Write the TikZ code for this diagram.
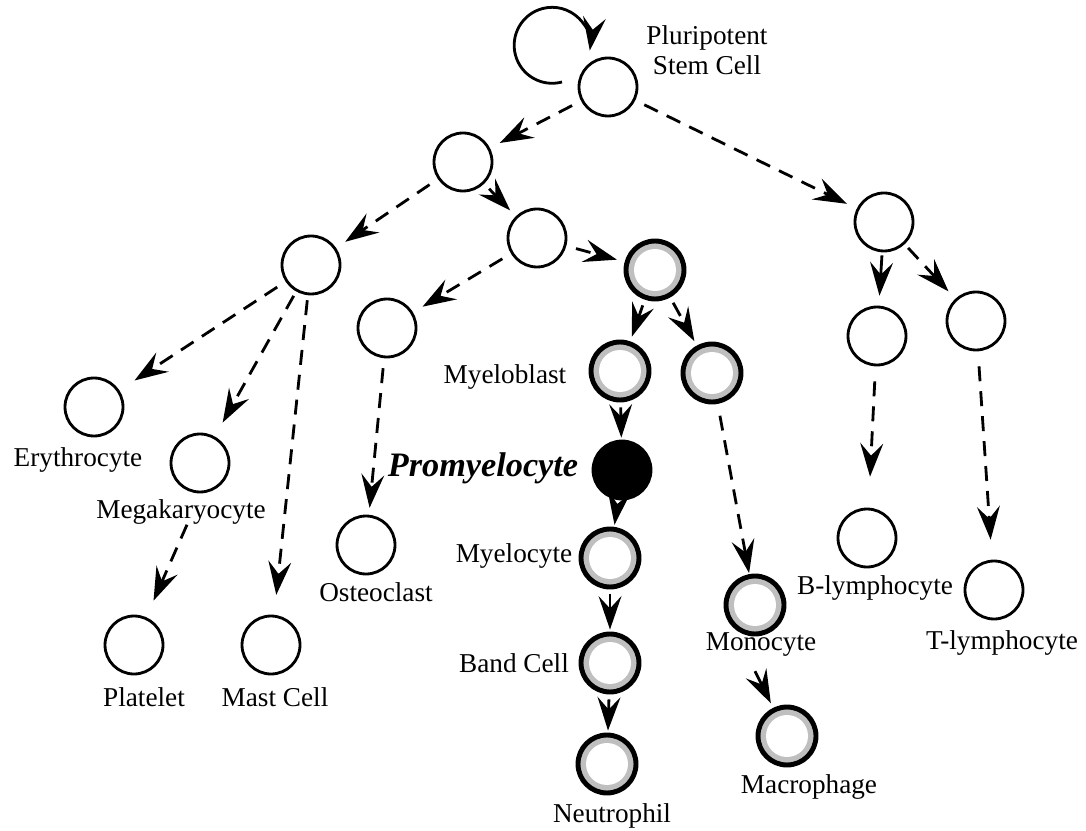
\documentclass[tikz,border=0pt]{standalone}
\usepackage{fontspec}
\setmainfont{Liberation Serif}
\usetikzlibrary{arrows.meta}
\begin{document}
\begin{tikzpicture}[x=0.02cm,y=-0.02cm,
  >={Stealth[length=19pt,width=13pt,inset=7pt]},
  cell/.style={circle, draw, line width=1.6pt, minimum size=1.16cm, inner sep=0pt},
  gcell/.style={cell, line width=2.8pt, fill=gray!50,
    path picture={\fill[white] (path picture bounding box.center) circle[radius=0.42cm];}},
  bcell/.style={cell, fill=black},
  lab/.style={font=\fontsize{15.5}{17}\selectfont, inner sep=0pt},
  con/.style={line width=1.6pt, ->, shorten <=0.2cm, shorten >=0.22cm},
  dsh/.style={con, dash pattern=on 0.3cm off 0.2cm},
  chain/.style={con, shorten <=0.1cm, shorten >=0.04cm},
]
\useasboundingbox (0,0) rectangle (1086,831);

% cells
\node[cell]  (stem)  at (608,87) {};
\node[cell]  (A)     at (463,162) {};
\node[cell]  (B)     at (537,238) {};
\node[cell]  (C)     at (311,265) {};
\node[gcell] (D)     at (655,270) {};
\node[cell]  (E)     at (884,222) {};
\node[cell]  (F)     at (387,328) {};
\node[gcell] (myb)   at (620,371) {};
\node[gcell] (monp)  at (712,373) {};
\node[cell]  (ery)   at (94,407) {};
\node[cell]  (mega)  at (200,463) {};
\node[bcell] (pro)   at (622,470) {};
\node[cell]  (ost)   at (366,545) {};
\node[gcell] (myc)   at (610,558) {};
\node[cell]  (bp)    at (877,336) {};
\node[cell]  (tp)    at (976,321) {};
\node[cell]  (bl)    at (867,538) {};
\node[cell]  (tl)    at (994,590) {};
\node[gcell] (mono)  at (755,605) {};
\node[gcell] (band)  at (610,663) {};
\node[cell]  (plt)   at (134,645) {};
\node[cell]  (mast)  at (271,645) {};
\node[gcell] (mac)   at (787,736) {};
\node[gcell] (neu)   at (607,764) {};

% labels
\node[lab, align=center] (lstem) at (707,50) {Pluripotent\\Stem Cell};
\node[lab] (lmyb)  at (505,377) {Myeloblast};
\node[lab] (lery)  at (78,460) {Erythrocyte};
\node[lab] (lmega) at (181,512) {Megakaryocyte};
\node[lab, font=\fontsize{19.5}{22}\selectfont\bfseries\itshape] (lpro) at (483,468) {Promyelocyte};
\node[lab] (lost)  at (376,592) {Osteoclast};
\node[lab] (lmyc)  at (514,556) {Myelocyte};
\node[lab] (lbl)   at (875,588) {B-lymphocyte};
\node[lab] (ltl)   at (1002,643) {T-lymphocyte};
\node[lab] (lmono) at (761,645) {Monocyte};
\node[lab] (lband) at (514,663) {Band Cell};
\node[lab] (lplt)  at (144,697) {Platelet};
\node[lab] (lmast) at (275,697) {Mast Cell};
\node[lab] (lmac)  at (809,787) {Macrophage};
\node[lab] (lneu)  at (612,816) {Neutrophil};

% self renewal loop
\coordinate (loopstart) at (562,82);
\draw[line width=1.6pt, ->] (loopstart) arc[start angle=-75, end angle=-368, radius=0.76cm];

% connectors
\draw[dsh] (stem) -- (A);
\draw[dsh] (stem) -- (E);
\draw[dsh] (A) -- (C);
\draw[dsh, shorten <=0.14cm, shorten >=0.16cm] (A) -- (B);
\draw[dsh] (B) -- (F);
\draw[dsh, shorten >=0.16cm] (B) -- (D);
\draw[con, shorten <=0.12cm, shorten >=0.1cm] (D) -- (myb);
\draw[dsh, shorten <=0.12cm, shorten >=0.1cm] (D) -- (monp);
\draw[dsh, shorten >=0.36cm] (C) -- (ery);
\draw[dsh, shorten <=0.1cm, shorten >=0.32cm] (C) -- (mega);
\draw[dsh, shorten <=0.1cm, shorten >=0.4cm] (C) -- (mast);
\draw[dsh, shorten <=0pt, shorten >=0.36cm] ([xshift=0.12cm]lmega.south) -- (plt);
\draw[dsh, shorten >=0.14cm] (F) -- (ost);
\draw[chain] (myb) -- (pro);
\draw[chain] (pro) -- (myc);
\draw[chain] (myc) -- (band);
\draw[chain] (band) -- (neu);
\draw[dsh, shorten <=0.24cm, shorten >=0.02cm] (monp) -- (mono);
\draw[con, shorten <=0pt, shorten >=0.1cm] ([shift={(-6,14)}]lmono.south) -- (mac);
\draw[con, shorten <=0.06cm, shorten >=0.2cm] (E) -- (bp);
\draw[dsh, shorten <=0.1cm, shorten >=0.2cm] (E) -- (tp);
\draw[dsh, shorten <=0.3cm, shorten >=0.62cm] (bp) -- (bl);
\draw[dsh, shorten <=0.3cm, shorten >=0.4cm] (tp) -- (tl);
\end{tikzpicture}
\end{document}
